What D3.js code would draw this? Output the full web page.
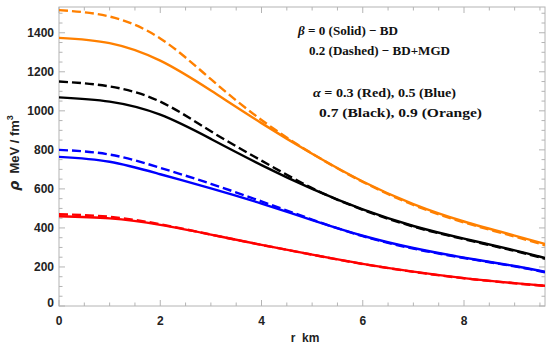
<!DOCTYPE html>
<html>
<head>
<meta charset="utf-8">
<script src="https://cdn.jsdelivr.net/npm/d3@7"></script>
<style>
  body { margin: 0; background: #fff; }
  svg { display: block; }
  .tick-label { font-family: "Liberation Sans", Arial, sans-serif; font-weight: bold; font-size: 12px; fill: #222; }
  .note { font-family: "Liberation Serif", "DejaVu Serif", serif; font-weight: bold; font-size: 13.5px; fill: #111; }
</style>
</head>
<body>
<svg width="550" height="346"></svg>
<script>
// radius samples (km)
var radius = [0, 1, 2, 3, 4, 5, 6, 7, 8, 9, 9.6]

// density curves (MeV / fm^3)
var redSolid     = [460, 449, 416, 366, 313, 263, 216, 176, 143, 117, 104]
var redDashed    = [470, 457, 419, 366, 313, 263, 215, 175, 142, 116, 103]
var blueSolid    = [764, 739, 675, 603, 525, 440, 360, 297, 248, 205, 175]
var blueDashed   = [800, 776, 708, 626, 536, 443, 358, 294, 246, 203, 173]
var blackSolid   = [1069, 1047, 980, 856, 722, 600, 495, 410, 345, 285, 246]
var blackDashed  = [1150, 1125, 1047, 895, 745, 604, 493, 407, 342, 282, 242]
var orangeSolid  = [1374, 1347, 1257, 1104, 937, 780, 638, 522, 433, 361, 318]
var orangeDashed = [1516, 1483, 1371, 1162, 953, 781, 636, 518, 428, 356, 311]

var series = [
    {values: redSolid, color: '#ff0000', dashed: false},
    {values: redDashed, color: '#ff0000', dashed: true},
    {values: blueSolid, color: '#0000ff', dashed: false},
    {values: blueDashed, color: '#0000ff', dashed: true},
    {values: blackSolid, color: '#000000', dashed: false},
    {values: blackDashed, color: '#000000', dashed: true},
    {values: orangeSolid, color: '#ff8000', dashed: false},
    {values: orangeDashed, color: '#ff8000', dashed: true}
]

var xTicks = [0, 2, 4, 6, 8]
var yTicks = [0, 200, 400, 600, 800, 1000, 1200, 1400]

var pLeft = 59, pRight = 545, pTop = 7, pBottom = 306

var x = d3.scaleLinear().domain([0, 9.6]).range([pLeft, pRight])
var y = d3.scaleLinear().domain([0, 1532]).range([pBottom, pTop])

var svg = d3.select('svg')

// frame
svg.append('rect')
    .attr('x', pLeft)
    .attr('y', pTop)
    .attr('width', pRight - pLeft)
    .attr('height', pBottom - pTop)
    .attr('fill', 'none')
    .style('stroke', '#b4b4b4')
    .style('stroke-width', 1)

var xMinor = d3.range(0, 9.6001, 0.5)
var yMinor = d3.range(0, 1532, 50)

var ticks = svg.append('g').style('stroke', '#b4b4b4').style('stroke-width', 1)

xMinor.forEach(function(d){
    var len = xTicks.indexOf(d) >= 0 ? 6 : 3.5
    ticks.append('line').attr('x1', x(d)).attr('x2', x(d)).attr('y1', pBottom).attr('y2', pBottom - len)
    ticks.append('line').attr('x1', x(d)).attr('x2', x(d)).attr('y1', pTop).attr('y2', pTop + len)
})
yMinor.forEach(function(d){
    var len = yTicks.indexOf(d) >= 0 ? 6 : 3.5
    ticks.append('line').attr('y1', y(d)).attr('y2', y(d)).attr('x1', pLeft).attr('x2', pLeft + len)
    ticks.append('line').attr('y1', y(d)).attr('y2', y(d)).attr('x1', pRight).attr('x2', pRight - len)
})

// tick labels
svg.selectAll('.xl')
    .data(xTicks)
    .enter()
    .append('text')
    .attr('class', 'tick-label')
    .attr('x', function(d){ return x(d) })
    .attr('y', 325)
    .attr('text-anchor', 'middle')
    .text(function(d){ return d })

svg.selectAll('.yl')
    .data(yTicks)
    .enter()
    .append('text')
    .attr('class', 'tick-label')
    .attr('x', 54)
    .attr('y', function(d){ return d === 0 ? y(d) + 1 : y(d) })
    .attr('dy', function(d){ return d === 0 ? 0 : '0.36em' })
    .attr('text-anchor', 'end')
    .text(function(d){ return d })

// curves
var line = d3.line()
    .x(function(v, i){ return x(radius[i]) })
    .y(function(v){ return y(v) })
    .curve(d3.curveNatural)

svg.append('clipPath').attr('id', 'plot')
    .append('rect').attr('x', pLeft).attr('y', pTop).attr('width', pRight - pLeft).attr('height', pBottom - pTop)

svg.append('g')
    .attr('clip-path', 'url(#plot)')
    .selectAll('path')
    .data(series)
    .enter()
    .append('path')
    .attr('d', function(s){ return line(s.values) })
    .attr('fill', 'none')
    .style('stroke', function(s){ return s.color })
    .style('stroke-width', 2.4)
    .style('stroke-dasharray', function(s){ return s.dashed ? '9,4' : null })

// axis titles
var yTitle = svg.append('text')
    .attr('class', 'tick-label')
    .style('font-size', '13px')
    .attr('transform', 'translate(19,153) rotate(-90)')
    .attr('text-anchor', 'middle')
    .attr('xml:space', 'preserve')
yTitle.append('tspan').attr('font-family', 'DejaVu Sans').attr('font-style', 'italic').attr('font-size', 14).text('ρ')
yTitle.append('tspan').text('  MeV / fm')
yTitle.append('tspan').attr('dy', -6).attr('font-size', 9).text('3')

svg.append('text')
    .attr('class', 'tick-label')
    .attr('x', 305)
    .attr('y', 342)
    .attr('text-anchor', 'middle')
    .attr('xml:space', 'preserve')
    .text('r  km')

// annotations
var notes = [
    {x: 298, y: 35, sym: 'β', rest: ' = 0 (Solid) − BD', w: 100},
    {x: 309, y: 55, sym: '', rest: '0.2 (Dashed) − BD+MGD', w: 141},
    {x: 313, y: 97, sym: 'α', rest: ' = 0.3 (Red), 0.5 (Blue)', w: 143},
    {x: 319, y: 117, sym: '', rest: '0.7 (Black), 0.9 (Orange)', w: 163}
]
notes.forEach(function(n){
    var t = svg.append('text')
        .attr('class', 'note')
        .attr('x', n.x)
        .attr('y', n.y)
        .attr('xml:space', 'preserve')
        .attr('textLength', n.w)
        .attr('lengthAdjust', 'spacingAndGlyphs')
    if (n.sym) t.append('tspan').attr('font-style', 'italic').text(n.sym)
    t.append('tspan').text(n.rest)
})
</script>
</body>
</html>
